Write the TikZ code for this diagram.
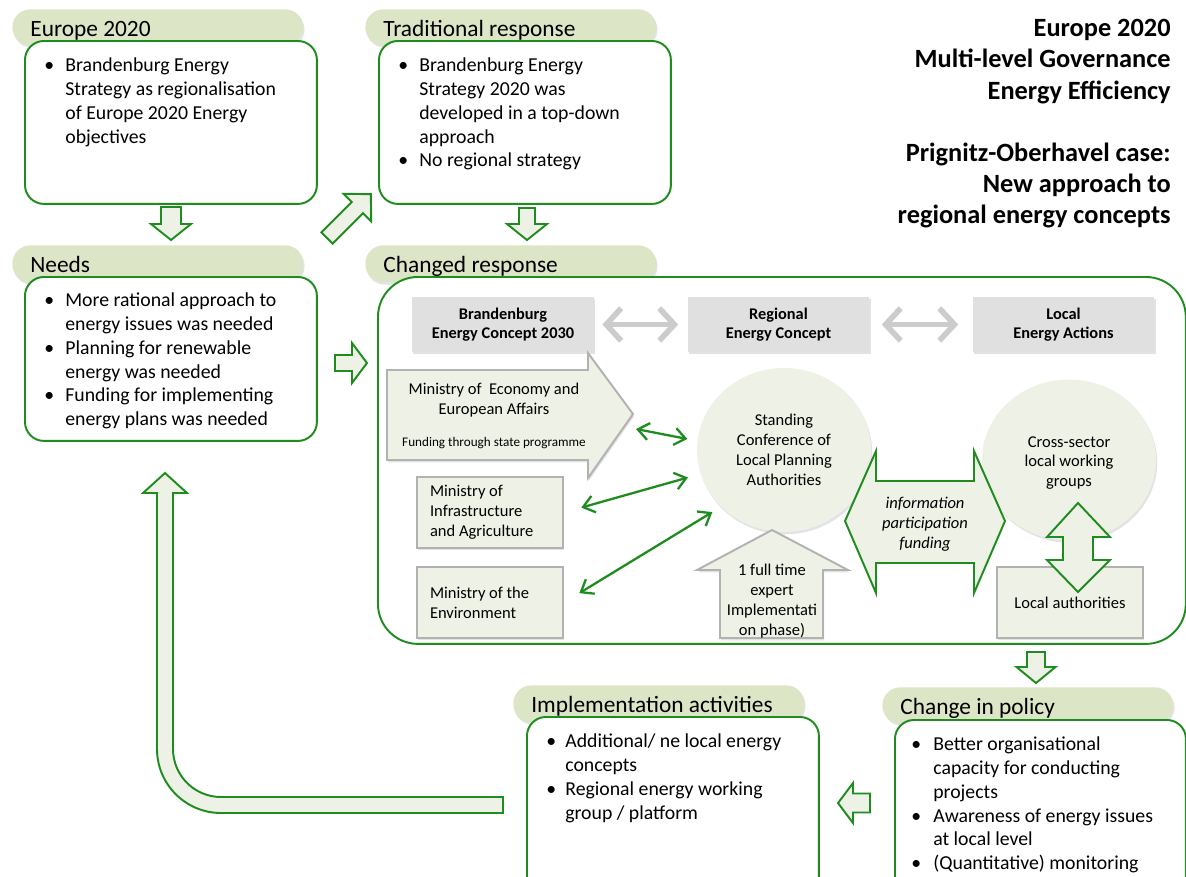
\documentclass[tikz,border=0pt]{standalone}
\usepackage{fontspec}
\setmainfont{Carlito}
\usetikzlibrary{arrows.meta,positioning,shapes.geometric,shadows}
\definecolor{pegreen}{RGB}{30,140,30}
\definecolor{pepill}{RGB}{221,229,199}
\definecolor{pelight}{RGB}{238,241,229}
\definecolor{pegray}{RGB}{224,224,224}
\definecolor{peedge}{RGB}{178,178,178}
\definecolor{pearr}{RGB}{204,204,204}
% block arrow: style, tail, angle, length, half shaft, half head, head length
\newcommand{\blkarrow}[7]{%
  \begin{scope}[shift={#2}, rotate=#3]
    \draw[#1] (-#5,0) -- (#5,0) -- (#5,#4-#7) -- (#6,#4-#7) -- (0,#4)
      -- (-#6,#4-#7) -- (-#5,#4-#7) -- cycle;
  \end{scope}}
\tikzset{
  soft/.style={drop shadow={opacity=0.22, shadow xshift=0.7pt, shadow yshift=-1.3pt}},
  plainsp/.style={execute at begin node={\spaceskip=0pt\xspaceskip=0pt\relax}},
  pill/.style={
    fill=pepill, rounded corners=0.36cm, anchor=north west, soft, plainsp,
    minimum width=5.82cm, minimum height=0.72cm, text width=5.1cm,
    align=left, inner xsep=0.36cm, text height=10pt, text depth=0pt,
    font=\fontsize{13.3}{16}\selectfont
  },
  frame/.style={
    draw=pegreen, fill=white, line width=1.1pt, rounded corners=0.38cm,
    anchor=north west, minimum width=5.84cm, minimum height=3.26cm
  },
  bul/.style={anchor=north west, inner sep=0pt, font=\fontsize{11.25}{13.5}\selectfont},
  gbox/.style={
    fill=pegray, minimum width=3.64cm, minimum height=1.1cm, align=center,
    font=\bfseries\fontsize{9.3}{10.8}\selectfont, soft
  },
  mbox/.style={
    draw=peedge, fill=pelight, line width=1.1pt, minimum width=2.92cm,
    minimum height=1.42cm, text width=2.4cm, inner xsep=0.26cm, plainsp,
    align=left, font=\fontsize{9.4}{11.3}\selectfont, soft
  },
  disc/.style={
    ellipse, fill=pelight, minimum width=3.48cm, minimum height=3.28cm,
    align=center, font=\fontsize{9.4}{11.3}\selectfont, soft
  },
  txt/.style={font=\fontsize{9.4}{11.3}\selectfont, align=center, inner sep=0pt},
  blk/.style={draw=pegreen, fill=pelight, line width=1.1pt},
  gshape/.style={draw=peedge, fill=pelight, line width=1.1pt, soft},
  garr/.style={<->, >={Straight Barb[length=2.2mm,width=3.4mm]}, draw=pegreen, line width=1.3pt},
  grarr/.style={<->, >={Straight Barb[length=3mm,width=6.5mm]}, draw=pearr, line width=3.2pt}
}
\begin{document}
\begin{tikzpicture}[x=0.02cm, y=-0.02cm]
  \clip (0,0) rectangle (1186,876);
  % left column
  \node[pill] (eupill) at (12,9) {Europe 2020};
  \node[frame] (eubody) at (24,40) {};
  \node[bul] (eutext) at (44,55) {\begin{tabular}{@{}p{0.42cm}@{}l@{}}
    \textbullet & Brandenburg Energy\\
    & Strategy as regionalisation\\
    & of Europe 2020 Energy\\
    & objectives
  \end{tabular}};
  \node[pill, minimum height=0.74cm] (nepill) at (12,245) {Needs};
  \node[frame, minimum height=3.28cm] (nebody) at (24,276) {};
  \node[bul] (netext) at (44,290) {\begin{tabular}{@{}p{0.42cm}@{}l@{}}
    \textbullet & More rational approach to\\
    & energy issues was needed\\
    \textbullet & Planning for renewable\\
    & energy was needed\\
    \textbullet & Funding for implementing\\
    & energy plans was needed
  \end{tabular}};
  % traditional response
  \node[pill] (trpill) at (365,9) {Traditional response};
  \node[frame] (trbody) at (378,40) {};
  \node[bul] (trtext) at (398,55) {\begin{tabular}{@{}p{0.42cm}@{}l@{}}
    \textbullet & Brandenburg Energy\\
    & Strategy 2020 was\\
    & developed in a top-down\\
    & approach\\
    \textbullet & No regional strategy
  \end{tabular}};
  % title
  \node[anchor=north east, align=right, inner sep=0pt,
    font=\bfseries\fontsize{15}{17.75}\selectfont] (title) at (1171,19)
    {Europe 2020\\Multi-level Governance\\Energy Efficiency\\[17.75pt]
     Prignitz-Oberhavel case:\\New approach to\\regional energy concepts};
  % changed response
  \node[pill, minimum height=0.74cm] (chpill) at (365,245) {Changed response};
  \node[frame, rounded corners=0.8cm, minimum width=16.16cm, minimum height=7.34cm]
    (chbody) at (377,276) {};
  \node[gbox] (brand) at (503,324.5) {Brandenburg\\Energy Concept 2030};
  \node[gbox] (regio) at (778.5,324.5) {Regional\\Energy Concept};
  \node[gbox] (local) at (1063.5,324.5) {Local\\Energy Actions};
  \draw[grarr, shorten <=0.16cm, shorten >=0.18cm] (brand.east) -- (regio.west);
  \draw[grarr, shorten <=0.24cm, shorten >=0.28cm] (regio.east) -- (local.west);
  \draw[gshape] (387,370) -- (588,370) -- (588,353) -- (633,414) -- (588,478)
    -- (588,460) -- (387,460) -- cycle;
  \node[txt] (econ) at (494,400) {Ministry of\ \ Economy and\\European Affairs};
  \node[txt, font=\fontsize{7.5}{9}\selectfont] (fund) at (494,443) {Funding through state programme};
  \node[mbox] (infra) at (490,512.5) {Ministry of\\Infrastructure\\and Agriculture};
  \node[mbox] (envi) at (490,602.5) {Ministry of the\\Environment};
  \node[disc] (conf) at (784,450) {Standing\\Conference of\\Local Planning\\Authorities};
  \node[disc, minimum height=3.22cm] (cross) at (1069,460) {};
  \node[txt] (crosstext) at (1069,463) {Cross-sector\\local working\\groups};
  \node[mbox, align=center] (locauth) at (1070,602.5) {Local authorities};
  \draw[gshape] (720,638) -- (720,570) -- (697,570) -- (772,530) -- (848,570)
    -- (823,570) -- (823,638) -- cycle;
  \node[txt] (expert) at (772,601) {1 full time\\expert\\Implementati\\on phase)};
  \draw[blk] (845,521) -- (876,451) -- (876,481) -- (974,481) -- (974,451) -- (1005,521)
    -- (974,593) -- (974,563) -- (876,563) -- (876,593) -- cycle;
  \node[txt, font=\itshape\fontsize{9.4}{11.3}\selectfont] (info) at (925,524)
    {information\\participation\\funding};
  \draw[blk] (1078,503) -- (1110,537) -- (1093,537) -- (1093,560) -- (1110,560)
    -- (1078,592) -- (1047,560) -- (1063,560) -- (1063,537) -- (1047,537) -- cycle;
  \coordinate (econpt) at (636,429);
  \draw[garr, shorten >=0.2cm] (econpt) -- (conf.174);
  \draw[garr, shorten <=0.36cm, shorten >=0.26cm] (infra.east) -- (conf.196);
  \draw[garr, shorten <=0.36cm, shorten >=0.2cm] (envi.east) -- (conf.222);
  % bottom row
  \node[pill, minimum height=0.74cm] (impill) at (513,685) {Implementation activities};
  \node[frame, minimum height=3.6cm] (imbody) at (526,716) {};
  \node[bul] (imtext) at (546,731) {\begin{tabular}{@{}p{0.38cm}@{}l@{}}
    \textbullet & Additional/ ne local energy\\
    & concepts\\
    \textbullet & Regional energy working\\
    & group / platform
  \end{tabular}};
  \node[pill] (cppill) at (882,687) {Change in policy};
  \node[frame, minimum width=5.82cm, minimum height=3.6cm] (cpbody) at (894,719) {};
  \node[bul] (cptext) at (911,734) {\begin{tabular}{@{}p{0.44cm}@{}l@{}}
    \textbullet & Better organisational\\
    & capacity for conducting\\
    & projects\\
    \textbullet & Awareness of energy issues\\
    & at local level\\
    \textbullet & (Quantitative) monitoring
  \end{tabular}};
  % block arrows
  \blkarrow{blk}{(171,207)}{0}{33}{10}{20}{16}
  \blkarrow{blk}{(527,208)}{0}{32}{8}{20}{16}
  \blkarrow{blk}{(335,363)}{90}{32}{8}{20}{15}
  \blkarrow{blk}{(327,238)}{135}{62}{8}{19.5}{19}
  \blkarrow{blk}{(1036,652)}{0}{31}{9}{19.5}{16}
  \blkarrow{blk}{(870,803)}{-90}{32}{9.5}{20}{15}
  \draw[blk] (165,473) -- (187,493) -- (173,493) -- (173,749)
    .. controls (173,775.5) and (194.5,797) .. (221,797) -- (503,797) -- (503,813)
    -- (221,813) .. controls (185.7,813) and (157,784.3) .. (157,749)
    -- (157,493) -- (143,493) -- cycle;
\end{tikzpicture}
\end{document}
